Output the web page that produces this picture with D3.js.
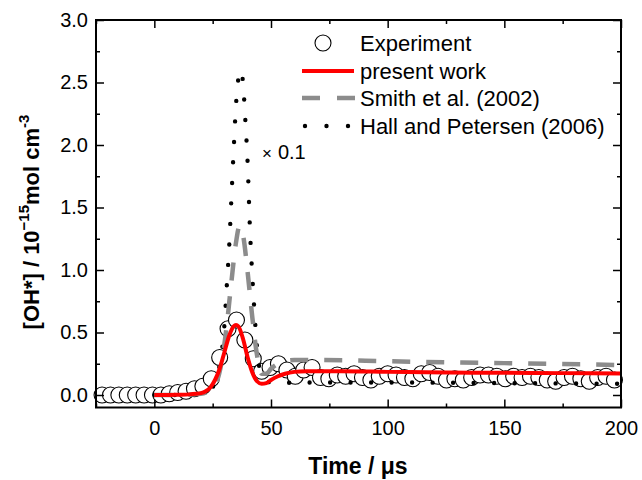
<!DOCTYPE html>
<html>
<head>
<meta charset="utf-8">
<script src="https://cdn.jsdelivr.net/npm/d3@7"></script>
<style>
  body { margin: 0; background: #fff; }
  svg { display: block; font-family: "Liberation Sans", Arial, sans-serif; }
  .axis text { font-size: 20px; fill: #000; }
  .axis path { display: none; }
  .axis line { stroke: #000; stroke-width: 1.5; }
</style>
</head>
<body>
<svg id="chart" width="642" height="480"></svg>
<script>
// experiment (open circles)
const expTime = [-22.4, -18.8, -15.2, -11.6, -8, -4.4, -0.8, 2.8, 6.4, 10, 13.6, 17.2, 20.8, 24.4, 28, 31.6, 35.2, 38.8, 42.4, 46,
  49.6, 53.2, 56.8, 60.4, 64, 67.6, 71.2, 74.8, 78.4, 82, 85.6, 89.2, 92.8, 96.4, 100, 103.6, 107.2, 110.8, 114.4, 118,
  121.6, 125.2, 128.8, 132.4, 136, 139.6, 143.2, 146.8, 150.4, 154, 157.6, 161.2, 164.8, 168.4, 172, 175.6, 179.2, 182.8, 186.4, 190,
  193.6, 197.2];
const expValue = [0, 0, 0, 0, 0, 0, 0, 0, 0.01, 0.02, 0.03, 0.05, 0.07, 0.13, 0.3, 0.53, 0.6, 0.44, 0.29, 0.19,
  0.22, 0.25, 0.2, 0.15, 0.2, 0.22, 0.14, 0.13, 0.16, 0.15, 0.17, 0.14, 0.12, 0.15, 0.17, 0.16, 0.14, 0.13, 0.17, 0.18,
  0.15, 0.12, 0.13, 0.12, 0.14, 0.16, 0.16, 0.15, 0.13, 0.15, 0.14, 0.15, 0.14, 0.12, 0.11, 0.14, 0.15, 0.13, 0.11, 0.14,
  0.15, 0.12];

// present work (red)
const presentTime = [0, 5, 10, 15, 18, 20, 22, 24, 26, 28, 30, 32, 34, 35, 36, 38, 40, 42, 44, 46, 48, 50, 53, 56, 60, 65, 70, 80, 100, 125, 150, 175, 200];
const presentValue = [0, 0, 0.002, 0.005, 0.01, 0.015, 0.03, 0.06, 0.12, 0.21, 0.34, 0.47, 0.55, 0.56, 0.55, 0.45, 0.3, 0.18, 0.11, 0.09, 0.095, 0.12, 0.15, 0.17, 0.185, 0.19, 0.19, 0.19, 0.185, 0.18, 0.178, 0.175, 0.172];

// Smith et al. (2002) (grey dashed)
const smithTime = [0, 10, 20, 24, 27, 29, 31, 33, 35, 36.5, 38, 40, 42, 44, 46, 48, 50, 53, 56, 60, 70, 100, 150, 200];
const smithValue = [0, 0, 0.01, 0.04, 0.12, 0.28, 0.55, 0.9, 1.22, 1.35, 1.28, 0.98, 0.62, 0.32, 0.17, 0.17, 0.21, 0.25, 0.27, 0.28, 0.28, 0.27, 0.255, 0.24];

// Hall and Petersen (2006) (black dotted, x 0.1)
const hallTime = [0, 10, 20, 24, 26, 28, 29, 30, 31, 32, 33, 34, 35, 36, 37, 38, 39, 40, 41, 42, 43, 44, 45, 46, 48, 50, 55, 60, 80, 100, 150, 200];
const hallValue = [0, 0, 0.01, 0.04, 0.1, 0.24, 0.36, 0.55, 0.86, 1.16, 1.56, 1.96, 2.32, 2.53, 2.6, 2.5, 2.2, 1.85, 1.32, 0.95, 0.64, 0.38, 0.22, 0.15, 0.11, 0.1, 0.095, 0.1, 0.1, 0.1, 0.095, 0.09];

const xMajor = [0, 50, 100, 150, 200];
const xMinor = [-25, 25, 75, 125, 175];
const yMajor = [0, 0.5, 1, 1.5, 2, 2.5, 3];
const yMinor = [0.25, 0.75, 1.25, 1.75, 2.25, 2.75];
const legendLabels = ["Experiment", "present work", "Smith et al. (2002)", "Hall and Petersen (2006)"];

const svg = d3.select("#chart");
const plotL = 96, plotR = 621, plotT = 20, plotB = 407.5;

const x = d3.scaleLinear().domain([-25, 200]).range([plotL, plotR]);
const y = d3.scaleLinear().domain([-0.1, 3.0]).range([plotB, plotT]);

const zip = (ts, vs) => ts.map((t, i) => ({ t, v: vs[i] }));
const line = d3.line().x(d => x(d.t)).y(d => y(d.v)).curve(d3.curveMonotoneX);

// experiment circles first, lines drawn over them
svg.append("g").selectAll("circle")
  .data(zip(expTime, expValue))
  .join("circle")
  .attr("cx", d => x(d.t)).attr("cy", d => y(d.v)).attr("r", 8)
  .attr("fill", "#fff").attr("stroke", "#000").attr("stroke-width", 1.1);

svg.append("path").attr("d", line(zip(hallTime, hallValue)))
  .attr("fill", "none").attr("stroke", "#000").attr("stroke-width", 4.4)
  .attr("stroke-linecap", "round").attr("stroke-dasharray", "0 20.5");

svg.append("path").attr("d", line(zip(smithTime, smithValue)))
  .attr("fill", "none").attr("stroke", "#8c8c8c").attr("stroke-width", 4.5)
  .attr("stroke-dasharray", "18 16");

svg.append("path").attr("d", line(zip(presentTime, presentValue)))
  .attr("fill", "none").attr("stroke", "#ff0000").attr("stroke-width", 4);

// axes: ticks pointing inward on all four sides
const addAxis = (axis, tf, vals, size, labels, pad) => {
  const g = svg.append("g").attr("class", "axis").attr("transform", tf)
    .call(axis.tickValues(vals).tickSizeInner(size).tickSizeOuter(0).tickPadding(pad || 0)
      .tickFormat(labels ? labels : () => ""));
  return g;
};
addAxis(d3.axisBottom(x), `translate(0,${plotB})`, xMajor, -8, d => d3.format("d")(d), 13);
addAxis(d3.axisBottom(x), `translate(0,${plotB})`, xMinor, -4);
addAxis(d3.axisTop(x), `translate(0,${plotT})`, xMajor, -8);
addAxis(d3.axisTop(x), `translate(0,${plotT})`, xMinor, -4);
addAxis(d3.axisLeft(y), `translate(${plotL},0)`, yMajor, -8, d => d3.format(".1f")(d), 8);
addAxis(d3.axisLeft(y), `translate(${plotL},0)`, yMinor, -4);
addAxis(d3.axisRight(y), `translate(${plotR},0)`, yMajor, -8);
addAxis(d3.axisRight(y), `translate(${plotR},0)`, yMinor, -4);

svg.append("rect").attr("x", plotL).attr("y", plotT).attr("width", plotR - plotL).attr("height", plotB - plotT)
  .attr("fill", "none").attr("stroke", "#000").attr("stroke-width", 2);

// axis titles
svg.append("text").attr("x", 358).attr("y", 474).attr("text-anchor", "middle")
  .attr("font-size", 23).attr("font-weight", "bold").text("Time / μs");

const yTitle = svg.append("text").attr("transform", "translate(39,222) rotate(-90)")
  .attr("text-anchor", "middle").attr("font-size", 22).attr("font-weight", "bold");
yTitle.append("tspan").text("[OH*] / 10");
yTitle.append("tspan").attr("font-size", 15).attr("dy", -10).text("−15");
yTitle.append("tspan").attr("dy", 10).text("mol cm");
yTitle.append("tspan").attr("font-size", 15).attr("dy", -10).text("-3");

// scale note
const note = svg.append("text").attr("x", 262).attr("y", 159);
note.append("tspan").attr("font-size", 17).text("×");
note.append("tspan").attr("font-size", 20).attr("dx", 6).text("0.1");

// legend
const legY = [43, 71, 98, 126];
const leg = svg.append("g").attr("font-size", 22);
leg.selectAll("text").data(legendLabels).join("text")
  .attr("x", 360).attr("y", (d, i) => legY[i] + 8).text(d => d);
leg.append("circle").attr("cx", 323).attr("cy", legY[0]).attr("r", 8)
  .attr("fill", "#fff").attr("stroke", "#000").attr("stroke-width", 1.1);
leg.append("line").attr("x1", 302).attr("x2", 354).attr("y1", legY[1]).attr("y2", legY[1])
  .attr("stroke", "#ff0000").attr("stroke-width", 4);
leg.append("line").attr("x1", 302).attr("x2", 355).attr("y1", legY[2]).attr("y2", legY[2])
  .attr("stroke", "#8c8c8c").attr("stroke-width", 4.5).attr("stroke-dasharray", "18 17");
leg.append("line").attr("x1", 305).attr("x2", 350).attr("y1", legY[3]).attr("y2", legY[3])
  .attr("stroke", "#000").attr("stroke-width", 4.4).attr("stroke-linecap", "round").attr("stroke-dasharray", "0 21.5");
</script>
</body>
</html>
